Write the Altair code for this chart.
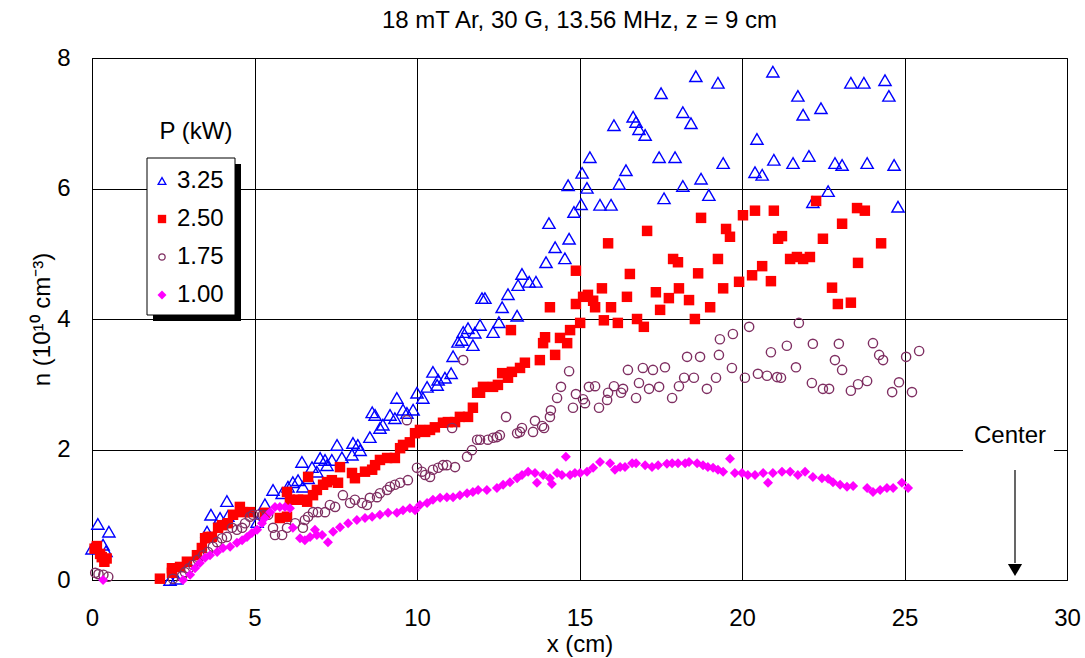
import altair as alt
import pandas as pd

# ---------------- data ----------------
x_325 = [0.0, 0.18, 0.34, 0.43, 0.52, 2.4, 2.6, 3.54, 3.66, 3.94, 4.15, 4.18, 5.08, 5.32, 5.57, 5.85, 6.03, 6.18,
         6.34, 6.49, 6.46, 6.65, 6.77, 6.92, 7.02, 7.17, 7.23, 7.38, 7.54, 7.69, 8.0, 8.03, 8.18, 8.25, 8.55, 8.62,
         8.71, 8.86, 8.95, 9.17, 9.32, 9.38, 9.57, 9.69, 9.88, 10.0, 10.18, 10.31, 10.62, 10.49, 10.65, 10.86,
         11.05, 11.11, 11.26, 11.38, 11.42, 11.57, 11.72, 11.78, 11.94, 12.0, 12.09, 12.34, 12.52, 12.62, 12.8,
         13.08, 13.11, 13.23, 13.45, 13.66, 13.97, 14.06, 14.25, 14.55, 14.68, 14.65, 14.83, 15.05, 15.08, 15.23,
         15.32, 15.63, 15.97, 16.06, 16.22, 16.43, 16.65, 16.74, 16.83, 17.02, 17.45, 17.51, 17.6, 17.94, 18.18,
         18.18, 18.43, 18.58, 18.74, 18.98, 19.26, 19.42, 20.4, 20.46, 20.62, 20.95, 20.98, 21.57, 21.72, 21.88,
         22.06, 22.43, 22.18, 22.65, 22.86, 23.08, 23.35, 23.75, 23.85, 24.4, 24.52, 24.68, 24.8]
y_325 = [0.48, 0.86, 0.54, 0.44, 0.74, 0.0, 0.02, 0.74, 1.0, 0.95, 1.21, 0.98, 0.89, 1.16, 1.38, 1.33, 1.43, 1.5,
         1.53, 1.43, 1.81, 1.56, 1.73, 1.66, 1.87, 1.84, 1.76, 1.84, 2.07, 1.88, 1.92, 2.1, 2.07, 1.99, 2.19, 2.57,
         2.53, 2.33, 2.38, 2.53, 2.48, 2.79, 2.61, 2.56, 2.61, 2.87, 2.79, 2.96, 2.99, 3.19, 3.07, 3.1,
         3.17, 3.43, 3.65, 3.68, 3.8, 3.86, 3.6, 3.79, 3.91, 4.32, 4.32, 3.8, 3.95, 4.18, 4.38,
         4.05, 4.52, 4.69, 4.57, 4.57, 4.87, 5.47, 5.1, 4.93, 5.23, 6.05, 5.64, 5.76, 6.24, 6.01,
         6.48, 5.75, 5.75, 6.97, 6.07, 6.28, 7.1, 7.02, 6.91, 6.82, 6.48, 7.46, 5.85, 6.48, 7.17,
         6.04, 7.0, 7.72, 6.15, 5.9, 7.62, 6.39, 6.25, 6.76, 6.21, 7.79, 6.44, 6.39, 7.42, 7.13,
         6.5, 7.23, 5.79, 5.96, 6.39, 6.36, 7.62, 7.62, 6.39, 7.66, 7.42, 6.36, 5.72]

x_250 = [0.08, 0.15, 0.25, 0.3, 0.38, 0.45, 2.09, 2.46, 2.46, 2.71, 2.92, 3.23, 3.38, 3.48, 3.57, 3.69, 3.88, 4.0,
         4.18, 4.34, 4.55, 4.65, 4.86, 5.32, 5.78, 6.0, 6.0, 6.09, 6.34, 6.49, 6.62, 6.65, 6.8, 6.92, 7.11, 7.23,
         7.38, 7.57, 7.63, 8.0, 8.09, 8.4, 8.62, 8.71, 8.86, 9.08, 9.32, 9.48, 9.57, 9.78, 9.94, 10.09, 10.25,
         10.4, 10.55, 10.8, 10.95, 11.17, 11.32, 11.57, 11.72, 11.85, 11.94, 12.03, 12.34, 12.49, 12.62, 12.8,
         12.92, 13.17, 13.32, 12.89, 13.78, 13.88, 13.94, 14.25, 14.4, 14.62, 14.71, 14.09, 14.89, 14.89, 15.02,
         15.11, 15.26, 15.42, 15.48, 15.69, 15.75, 15.88, 15.97, 16.18, 16.46, 16.55, 16.77, 16.98, 17.08, 17.35,
         17.48, 17.75, 17.88, 18.03, 18.06, 18.37, 18.55, 18.65, 18.74, 19.02, 19.26, 19.42, 19.51, 19.63, 19.91,
         20.03, 20.31, 20.4, 20.62, 20.89, 20.98, 21.11, 21.23, 21.48, 21.69, 21.88, 22.09, 22.28, 22.49, 22.77,
         22.95, 23.35, 23.08, 23.57, 23.54, 23.78, 24.28]
y_250 = [0.48, 0.52, 0.4, 0.35, 0.28, 0.33, 0.02, 0.18, 0.11, 0.2, 0.28, 0.38, 0.49, 0.64, 0.66, 0.66, 0.8, 0.84,
         0.87, 1.0, 1.12, 1.04, 1.04, 1.03, 0.95, 0.97, 1.35, 1.23, 1.23, 1.23, 1.2, 1.58, 1.3, 1.38, 1.46, 1.5,
         1.53, 1.49, 1.73, 1.64, 1.56, 1.66, 1.69, 1.76, 1.84, 1.87, 1.87, 2.02, 2.07, 2.11, 2.25, 2.3, 2.27,
         2.3, 2.34, 2.41, 2.42, 2.42, 2.5, 2.5, 2.64, 2.87, 2.87, 2.96, 2.96, 2.99, 3.17, 3.1,
         3.19, 3.25, 3.33, 3.83, 3.37, 3.63, 3.72, 3.45, 3.71, 3.63, 3.83, 4.18, 4.74, 4.23, 3.94,
         4.34, 4.37, 4.28, 4.18, 4.47, 3.98, 5.16, 4.18, 3.94, 4.34, 4.69, 4.0, 3.88, 5.35, 4.41,
         4.14, 4.32, 4.92, 4.87, 4.47, 4.29, 4.0, 4.7, 5.55, 4.18, 4.92, 4.47, 5.38, 5.26, 4.57,
         5.59, 4.67, 5.66, 4.81, 4.58, 5.66, 5.23, 5.27, 4.92, 4.95, 4.92, 4.95, 5.81, 5.23, 4.48,
         4.23, 4.25, 5.46, 4.86, 5.7, 5.66, 5.16]

x_175 = [0.1, 0.2, 0.35, 0.5, 2.49, 2.77, 2.86, 2.98, 3.11, 3.26, 3.42, 3.57, 3.72, 3.85, 4.0, 4.15, 4.31, 4.46,
         4.62, 4.71, 4.86, 4.95, 5.11, 5.26, 5.42, 5.57, 5.63, 5.85, 6.0, 6.25, 6.49, 6.55, 6.65, 6.8, 6.95, 7.17,
         7.32, 7.48, 7.72, 7.94, 8.09, 8.31, 8.46, 8.55, 8.77, 8.86, 9.08, 9.17, 9.32, 9.48, 9.69, 9.72, 10.0,
         10.15, 10.25, 10.4, 10.49, 10.65, 10.8, 10.92, 11.08, 11.17, 11.42, 11.54, 11.69, 11.85, 11.94, 12.18,
         12.34, 12.46, 12.55, 12.74, 13.08, 13.17, 13.23, 13.57, 13.63, 13.85, 13.91, 14.09, 14.12, 14.31, 14.43,
         14.68, 14.8, 14.89, 15.11, 15.17, 15.29, 15.48, 15.6, 15.85, 15.88, 16.06, 16.28, 16.34, 16.49, 16.74,
         16.83, 16.95, 17.14, 17.26, 17.45, 17.63, 17.85, 18.06, 18.22, 18.31, 18.52, 18.71, 18.92, 19.2, 19.29,
         19.32, 19.69, 19.72, 20.09, 20.22, 20.49, 20.77, 20.89, 21.08, 21.2, 21.38, 21.66, 21.75, 22.15, 22.18,
         22.49, 22.68, 22.86, 22.98, 23.08, 23.35, 23.57, 23.85, 24.03, 24.22, 24.34, 24.62, 24.83, 25.05, 25.23,
         25.45]
y_175 = [0.11, 0.09, 0.08, 0.05, 0.02, 0.06, 0.12, 0.18, 0.23, 0.31, 0.38, 0.43, 0.51, 0.58, 0.64, 0.66, 0.8, 0.77,
         0.8, 0.87, 0.97, 1.0, 1.0, 1.0, 1.0, 0.8, 0.69, 0.69, 0.8, 0.87, 0.8, 0.92, 0.97, 1.04, 1.04, 1.04,
         1.15, 1.12, 1.3, 1.18, 1.23, 1.18, 1.15, 1.26, 1.27, 1.33, 1.38, 1.43, 1.46, 1.49, 2.45, 1.53, 1.72,
         1.66, 1.61, 1.58, 1.69, 1.72, 1.76, 1.76, 2.33, 1.73, 3.37, 1.89, 1.99, 2.15, 2.15, 2.15,
         2.18, 2.19, 2.22, 2.5, 2.25, 2.27, 2.33, 2.27, 2.44, 2.36, 2.33, 2.5, 2.6, 2.79, 2.96,
         3.2, 2.64, 2.85, 2.77, 2.71, 2.96, 2.97, 2.64, 2.76, 2.87, 2.97, 2.87, 2.93, 3.22, 2.79,
         3.02, 3.25, 2.93, 3.22, 2.96, 3.26, 2.79, 2.97, 3.1, 3.42, 3.1, 3.42, 2.93, 3.1, 3.45,
         3.69, 3.25, 3.77, 3.1, 3.88, 3.16, 3.13, 3.49, 3.11, 3.1, 3.59, 3.26, 3.94, 3.02, 3.62,
         2.93, 2.93, 3.37, 3.62, 3.22, 2.9, 3.0, 3.05, 3.63, 3.45, 3.37, 2.88, 3.03, 3.42, 2.88,
         3.51]

x_100 = [0.34, 2.8, 3.02, 3.17, 3.32, 3.48, 3.63, 3.85, 4.03, 4.25, 4.46, 4.62, 4.77, 4.92, 5.08, 5.23, 5.32, 5.48,
         5.63, 5.78, 5.94, 6.09, 6.18, 6.4, 6.55, 6.71, 6.86, 6.92, 7.08, 7.26, 7.42, 7.63, 7.88, 8.15, 8.4, 8.62,
         8.86, 9.11, 9.38, 9.57, 9.78, 9.94, 10.09, 10.31, 10.49, 10.71, 10.92, 11.11, 11.32, 11.54, 11.72, 11.88,
         12.15, 12.46, 12.65, 12.86, 13.08, 13.23, 13.42, 13.63, 13.69, 13.88, 14.09, 14.15, 14.31, 14.46, 14.58,
         14.71, 14.86, 15.02, 15.23, 15.42, 15.63, 15.94, 16.09, 16.25, 16.4, 16.62, 16.74, 17.02, 17.23, 17.42,
         17.69, 17.85, 18.03, 18.25, 18.37, 18.62, 18.8, 18.95, 19.11, 19.26, 19.42, 19.63, 19.78, 20.0, 20.18,
         20.4, 20.65, 20.8, 20.95, 21.23, 21.48, 21.72, 21.94, 22.18, 22.46, 22.65, 22.8, 23.02, 23.23, 23.42,
         23.85, 24.03, 24.25, 24.46, 24.65, 24.92, 25.11]
y_100 = [0.0, 0.0, 0.08, 0.18, 0.26, 0.34, 0.38, 0.43, 0.49, 0.51, 0.57, 0.61, 0.66, 0.72, 0.77, 0.87, 0.95, 1.04,
         1.12, 1.12, 1.12, 1.1, 0.8, 0.64, 0.61, 0.66, 0.77, 0.69, 0.69, 0.58, 0.74, 0.81, 0.87, 0.92, 0.95, 0.97,
         1.0, 1.03, 1.03, 1.07, 1.1, 1.07, 1.15, 1.18, 1.23, 1.26, 1.27, 1.27, 1.3, 1.33, 1.35, 1.38,
         1.38, 1.41, 1.46, 1.5, 1.56, 1.61, 1.66, 1.64, 1.49, 1.61, 1.56, 1.47, 1.64, 1.61, 1.89,
         1.61, 1.64, 1.64, 1.66, 1.72, 1.81, 1.79, 1.69, 1.73, 1.73, 1.79, 1.79, 1.76, 1.73, 1.76,
         1.78, 1.79, 1.79, 1.79, 1.81, 1.79, 1.76, 1.73, 1.72, 1.69, 1.66, 1.86, 1.64, 1.64, 1.61,
         1.61, 1.64, 1.49, 1.64, 1.66, 1.66, 1.61, 1.66, 1.58, 1.56, 1.55, 1.5, 1.46, 1.43, 1.44,
         1.41, 1.35, 1.38, 1.41, 1.41, 1.49, 1.41]

series_labels = ["3.25", "2.50", "1.75", "1.00"]
x_ticks = [0, 5, 10, 15, 20, 25, 30]
y_ticks = [0, 2, 4, 6, 8]
center_x = 28.4

FONT = "Liberation Sans"
FS = 24
W, H = 975, 522

xs = alt.Scale(domain=[0, 30], nice=False, zero=False)
ys = alt.Scale(domain=[0, 8], nice=False, zero=False)

x_axis = alt.Axis(values=x_ticks, format="d", title="x (cm)", grid=True, gridColor="#000", gridWidth=1,
                  ticks=False, labelPadding=26, labelFontSize=FS, titleFontSize=FS, titleFontWeight="normal",
                  titlePadding=2, labelFont=FONT, titleFont=FONT, labelColor="#000", titleColor="#000",
                  domainColor="#000", labelFlush=False)
y_axis = alt.Axis(values=y_ticks, format="d", title="n (10¹⁰ cm⁻³)", grid=True, gridColor="#000", gridWidth=1,
                  ticks=False, labelPadding=22, labelFontSize=FS, titleFontSize=FS, titleFontWeight="normal",
                  titlePadding=2, labelFont=FONT, titleFont=FONT, labelColor="#000", titleColor="#000",
                  domainColor="#000", labelFlush=False)


def series_chart(xv, yv, shape, size, filled, color, axes=False):
    df = pd.DataFrame({"x": xv, "y": yv})
    if filled:
        m = alt.Chart(df).mark_point(shape=shape, size=size, filled=True, fill=color, stroke=None,
                                     opacity=1)
    else:
        m = alt.Chart(df).mark_point(shape=shape, size=size, filled=False, stroke=color,
                                     strokeWidth=1.4, opacity=1)
    if axes:
        return m.encode(x=alt.X("x:Q", scale=xs, axis=x_axis), y=alt.Y("y:Q", scale=ys, axis=y_axis))
    return m.encode(x=alt.X("x:Q", scale=xs), y=alt.Y("y:Q", scale=ys))


c325 = series_chart(x_325, y_325, "triangle-up", 150, False, "#0000FF", axes=True)
c250 = series_chart(x_250, y_250, "square", 110, True, "#FF0000")
c175 = series_chart(x_175, y_175, "circle", 85, False, "#7F2F62")
c100 = series_chart(x_100, y_100, "diamond", 100, True, "#FF00FF")

# ---------- "Center" annotation ----------
ann = pd.DataFrame({"x": [center_x], "label": ["Center"]})
center_bg = alt.Chart(ann).mark_rect(fill="white").encode(
    x=alt.value(871), x2=alt.value(962), y=alt.value(362), y2=alt.value(398))
center_txt = alt.Chart(ann).mark_text(font=FONT, fontSize=FS, align="center", baseline="middle",
                                      color="#000").encode(
    x=alt.value(918), y=alt.value(378), text="label:N")
arrow_line = alt.Chart(ann).mark_rule(color="#000", strokeWidth=1.2).encode(
    x=alt.X("x:Q", scale=xs), y=alt.value(412), y2=alt.value(505))
arrow_head = alt.Chart(ann).mark_point(shape="triangle-down", size=200, filled=True, fill="#000",
                                       stroke=None, opacity=1).encode(
    x=alt.X("x:Q", scale=xs), y=alt.value(512))

# ---------- manual legend ----------
leg = pd.DataFrame({"t": ["P (kW)"]})
legend_layers = [
    alt.Chart(leg).mark_rect(fill="#000").encode(
        x=alt.value(61), x2=alt.value(149), y=alt.value(106), y2=alt.value(263)),
    alt.Chart(leg).mark_rect(fill="white", stroke="#000", strokeWidth=1).encode(
        x=alt.value(55), x2=alt.value(143), y=alt.value(100), y2=alt.value(257)),
    alt.Chart(leg).mark_text(font=FONT, fontSize=FS, align="center", baseline="middle", color="#000").encode(
        x=alt.value(104), y=alt.value(74), text="t:N"),
]
rows_y = [123, 161, 199, 237]
sym_specs = [("triangle-up", 60, False, "#0000FF"), ("square", 70, True, "#FF0000"),
             ("circle", 40, False, "#7F2F62"), ("diamond", 80, True, "#FF00FF")]
for lab, ry, (shp, sz, fil, col) in zip(series_labels, rows_y, sym_specs):
    d = pd.DataFrame({"t": [lab]})
    if fil:
        sm = alt.Chart(d).mark_point(shape=shp, size=sz, filled=True, fill=col, stroke=None, opacity=1)
    else:
        sm = alt.Chart(d).mark_point(shape=shp, size=sz, filled=False, stroke=col, strokeWidth=1.3, opacity=1)
    legend_layers.append(sm.encode(x=alt.value(70), y=alt.value(ry)))
    legend_layers.append(
        alt.Chart(d).mark_text(font=FONT, fontSize=FS, align="left", baseline="middle", color="#000").encode(
            x=alt.value(85), y=alt.value(ry), text="t:N"))

chart = alt.layer(
    c325, c250, c175, c100, center_bg, center_txt, arrow_line, arrow_head, *legend_layers
).properties(
    width=W, height=H,
    title=alt.Title("18 mT Ar, 30 G, 13.56 MHz, z = 9 cm", font=FONT, fontSize=FS, fontWeight="normal",
                    color="#000", anchor="middle", offset=13),
    autosize=alt.AutoSizeParams(type="none"),
    padding={"left": 92, "top": 58, "right": 18, "bottom": 78},
    background="white",
).configure_view(stroke="#000", strokeWidth=1)

chart.save("out.html", embed_options={"renderer": "svg", "actions": False})
